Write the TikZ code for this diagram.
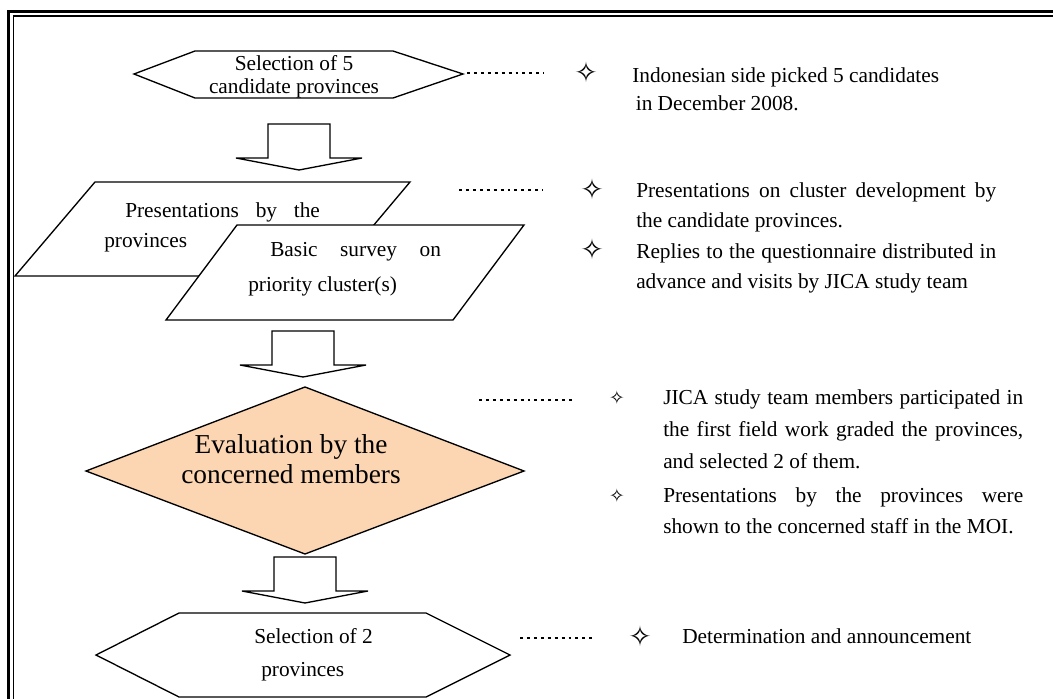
\documentclass[tikz,border=0pt]{standalone}
\usepackage{fontspec}
\setmainfont{Liberation Serif}
\newfontfamily\symfont{DejaVu Sans}
\usetikzlibrary{positioning}
\definecolor{evalfill}{RGB}{252,214,178}
\hyphenpenalty=10000
\exhyphenpenalty=10000
\tikzset{%
	outline/.style   = {draw, line width=1pt, fill=white, line join=miter}, % Box outline
	evaluation/.style= {outline, fill=evalfill}, % Shaded decision
	boxtext/.style   = {font=\fontsize{16}{20}\selectfont, inner sep=0pt, text height=11pt, text depth=3pt},
	notetext/.style  = {font=\fontsize{16}{22.5}\selectfont, inner sep=0pt, anchor=north west, align=justify},
	bullet/.style    = {font=\symfont\fontsize{21}{21}\selectfont, inner sep=0pt},
	smallbullet/.style = {font=\symfont\fontsize{14}{14}\selectfont, inner sep=0pt},
	leader/.style    = {line width=2.2pt, dash pattern=on 2.2pt off 3pt},
	downarrow/.pic   = {\draw[outline] (-31,-46) -- (31,-46) -- (31,-12) -- (63,-12) -- (0,0) -- (-63,-12) -- (-31,-12) -- cycle;},
}

\begin{document}
\begin{tikzpicture}[x=0.75pt, y=-0.75pt]
	\useasboundingbox (0,0) rectangle (1053,699);
	\clip (0,0) rectangle (1053,699);
	% frame
	\draw[line width=2pt] (8.7,720) -- (8.7,11.5) -- (1070,11.5);
	\draw[line width=1.2pt] (13.5,720) -- (13.5,16) -- (1070,16);
	
	% flow
	\draw[outline] (134,74) -- (195,51) -- (393,51) -- (463,74) -- (393,98) -- (195,98) -- cycle;
	\node[inner sep=0pt, align=center, font=\fontsize{16}{17.5}\selectfont] (selfive) at (294,77) {Selection of 5\\candidate provinces};
	\pic (arrowA) at (299,170) {downarrow};
	\draw[outline] (95,182) -- (410,182) -- (331,276) -- (15,276) -- cycle;
	\node[boxtext, anchor=west] (presA) at (125,212) {\makebox[146pt][s]{Presentations by the}};
	\node[boxtext, anchor=west] (presB) at (104,242) {provinces};
	\draw[outline] (237,225) -- (524,225) -- (453,320) -- (166,320) -- cycle;
	\node[boxtext, anchor=west] (surveyA) at (270,251) {\makebox[128pt][s]{Basic survey on}};
	\node[boxtext, anchor=west] (surveyB) at (248,286) {priority cluster(s)};
	\pic (arrowB) at (303,377) {downarrow};
	\draw[evaluation] (305,387) -- (524,471) -- (305,554) -- (86,471) -- cycle;
	\node[inner sep=0pt, align=center, font=\fontsize{20.5}{22.5}\selectfont] (evaluate) at (291,459) {Evaluation by the\\concerned members};
	\pic (arrowC) at (305,603) {downarrow};
	\draw[outline] (96,655) -- (179,613) -- (426,613) -- (510,655) -- (426,697) -- (179,697) -- cycle;
	\node[boxtext, anchor=west] (seltwoA) at (254,638) {Selection of 2};
	\node[boxtext, anchor=west] (seltwoB) at (261,671) {provinces};
	
	% notes
	\coordinate (leadA1) at (467,73);  \coordinate (leadA2) at (544,73);
	\coordinate (leadB1) at (459,190); \coordinate (leadB2) at (543,190);
	\coordinate (leadC1) at (479,400); \coordinate (leadC2) at (573,400);
	\coordinate (leadD1) at (520,638); \coordinate (leadD2) at (595,638);
	\draw[leader] (leadA1) -- (leadA2);
	\draw[leader] (leadB1) -- (leadB2);
	\draw[leader] (leadC1) -- (leadC2);
	\draw[leader] (leadD1) -- (leadD2);
	
	\node[bullet] (bulA) at (586,72) {✧};
	\node[notetext, align=left, font=\fontsize{16}{21}\selectfont] (noteA) at (632,67) {Indonesian side picked 5 candidates\\\,in December 2008.};
	\node[bullet] (bulB1) at (592,189) {✧};
	\node[notetext, text width=270pt] (noteB1) at (636,182) {Presentations on cluster development by the candidate provinces.};
	\node[bullet] (bulB2) at (592,249) {✧};
	\node[notetext, text width=270pt] (noteB2) at (636,243) {Replies to the questionnaire distributed in advance and visits by JICA study team};
	\node[smallbullet] (bulC1) at (617,398) {✧};
	\node[notetext, text width=270pt, font=\fontsize{16}{24}\selectfont] (noteC1) at (663,389) {JICA study team members participated in the first field work graded the provinces, and selected 2 of them.};
	\node[smallbullet] (bulC2) at (617,496) {✧};
	\node[notetext, text width=270pt, font=\fontsize{16}{23.5}\selectfont] (noteC2) at (663,487) {Presentations by the provinces were\linebreak shown to the concerned staff in the MOI.};
	\node[bullet] (bulD) at (640,636) {✧};
	\node[boxtext, anchor=west] (noteD) at (682,638) {Determination and announcement};
\end{tikzpicture}
\end{document}
